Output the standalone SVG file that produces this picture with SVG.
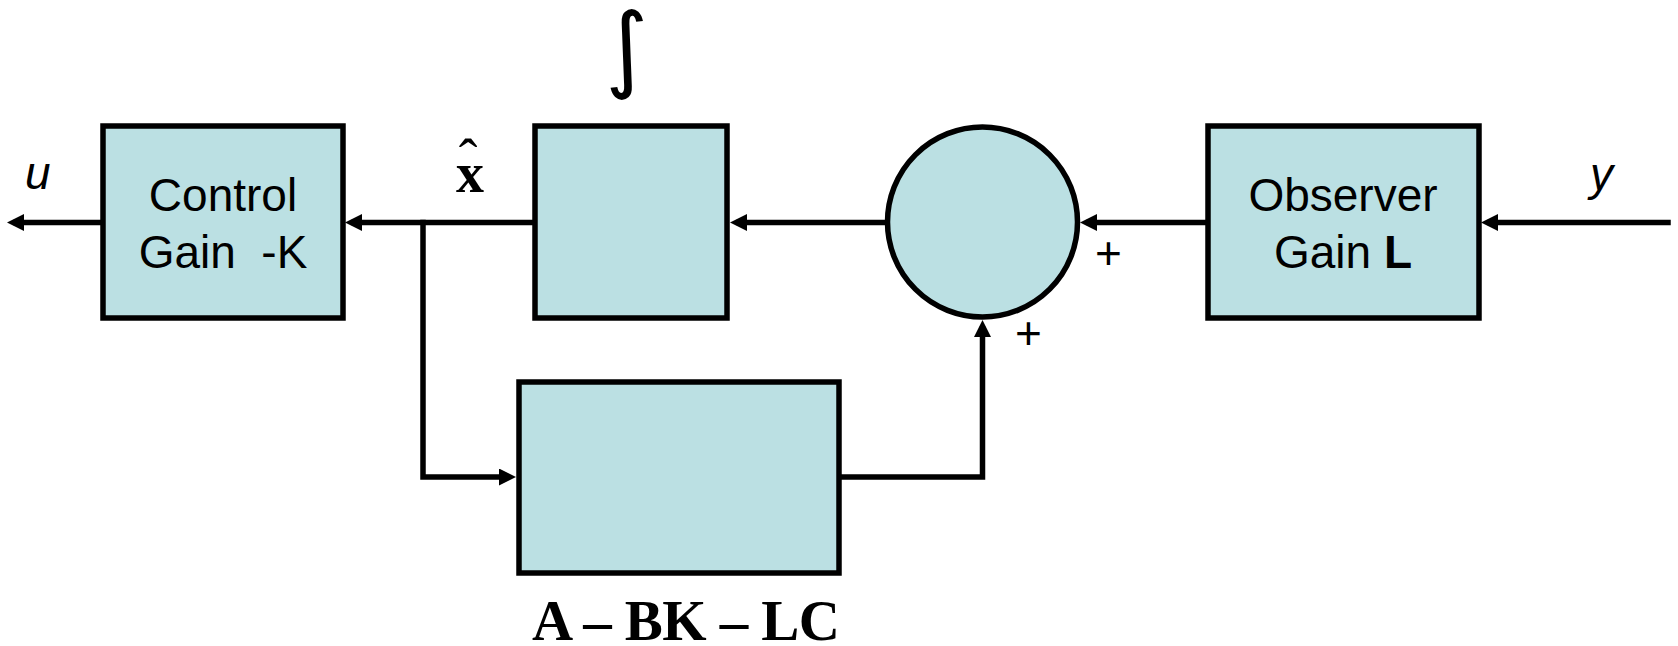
<svg xmlns="http://www.w3.org/2000/svg" width="1678" height="646" viewBox="0 0 1678 646">
<style>
.blk{fill:#BBE0E3;stroke:#000;stroke-width:5.5}
.wire{fill:none;stroke:#000;stroke-width:5.5;stroke-linejoin:miter;stroke-linecap:square}
.lbl{font-family:"Liberation Sans",Arial,sans-serif;font-size:46px;fill:#000}
.sig{font-family:"Liberation Sans",Arial,sans-serif;font-size:46px;font-style:italic;fill:#000}
.math{font-family:"Liberation Serif","Times New Roman",serif;font-weight:bold;fill:#000}
.intg{font-family:"DejaVu Sans",sans-serif;fill:#000}
</style>
<defs>
<marker id="ah" markerUnits="userSpaceOnUse" markerWidth="17" markerHeight="17" viewBox="0 0 17 17" refX="8" refY="8.5" orient="auto">
<path d="M0,0 L17,8.5 L0,17 z" fill="#000"/>
</marker>
</defs>
<g id="connectors">
<path class="wire" d="M1668,222.5 H1490" marker-end="url(#ah)"/>
<path class="wire" d="M1205,222.5 H1089" marker-end="url(#ah)"/>
<path class="wire" d="M885,222.5 H739" marker-end="url(#ah)"/>
<path class="wire" d="M532,222.5 H354" marker-end="url(#ah)"/>
<path class="wire" d="M100,222.5 H16" marker-end="url(#ah)"/>
<path class="wire" d="M423,222.5 V477 H507" marker-end="url(#ah)"/>
<path class="wire" d="M842,477 H982.5 V329" marker-end="url(#ah)"/>
</g>
<g id="control">
<rect class="blk" x="103" y="126" width="240" height="192"/>
<text class="lbl" x="223" y="211" text-anchor="middle">Control</text>
<text class="lbl" x="223" y="268" text-anchor="middle" xml:space="preserve">Gain  -K</text>
</g>
<g id="integrator">
<rect class="blk" x="535" y="126" width="192" height="192"/>
<text class="intg" transform="translate(629,80) skewX(5)" x="0" y="0" font-size="94" text-anchor="middle">∫</text>
</g>
<g id="sum">
<circle class="blk" cx="982.5" cy="222" r="95"/>
<text class="lbl" x="1108.5" y="269" text-anchor="middle">+</text>
<text class="lbl" x="1028.5" y="349" text-anchor="middle">+</text>
</g>
<g id="observer">
<rect class="blk" x="1208" y="126" width="271" height="192"/>
<text class="lbl" x="1343" y="211" text-anchor="middle">Observer</text>
<text class="lbl" x="1343" y="268" text-anchor="middle">Gain <tspan font-weight="bold">L</tspan></text>
</g>
<g id="dynamics">
<rect class="blk" x="519" y="382" width="320" height="191"/>
<text class="math" x="532" y="640" font-size="57" textLength="308" lengthAdjust="spacing">A – BK – LC</text>
</g>
<g id="labels">
<text class="sig" x="25" y="189">u</text>
<text class="sig" x="1590" y="190">y</text>
<text class="math" x="470" y="192" font-size="56" text-anchor="middle">x</text>
<text class="math" x="468" y="178" font-size="56" text-anchor="middle" style="font-weight:normal">ˆ</text>
</g>
</svg>
